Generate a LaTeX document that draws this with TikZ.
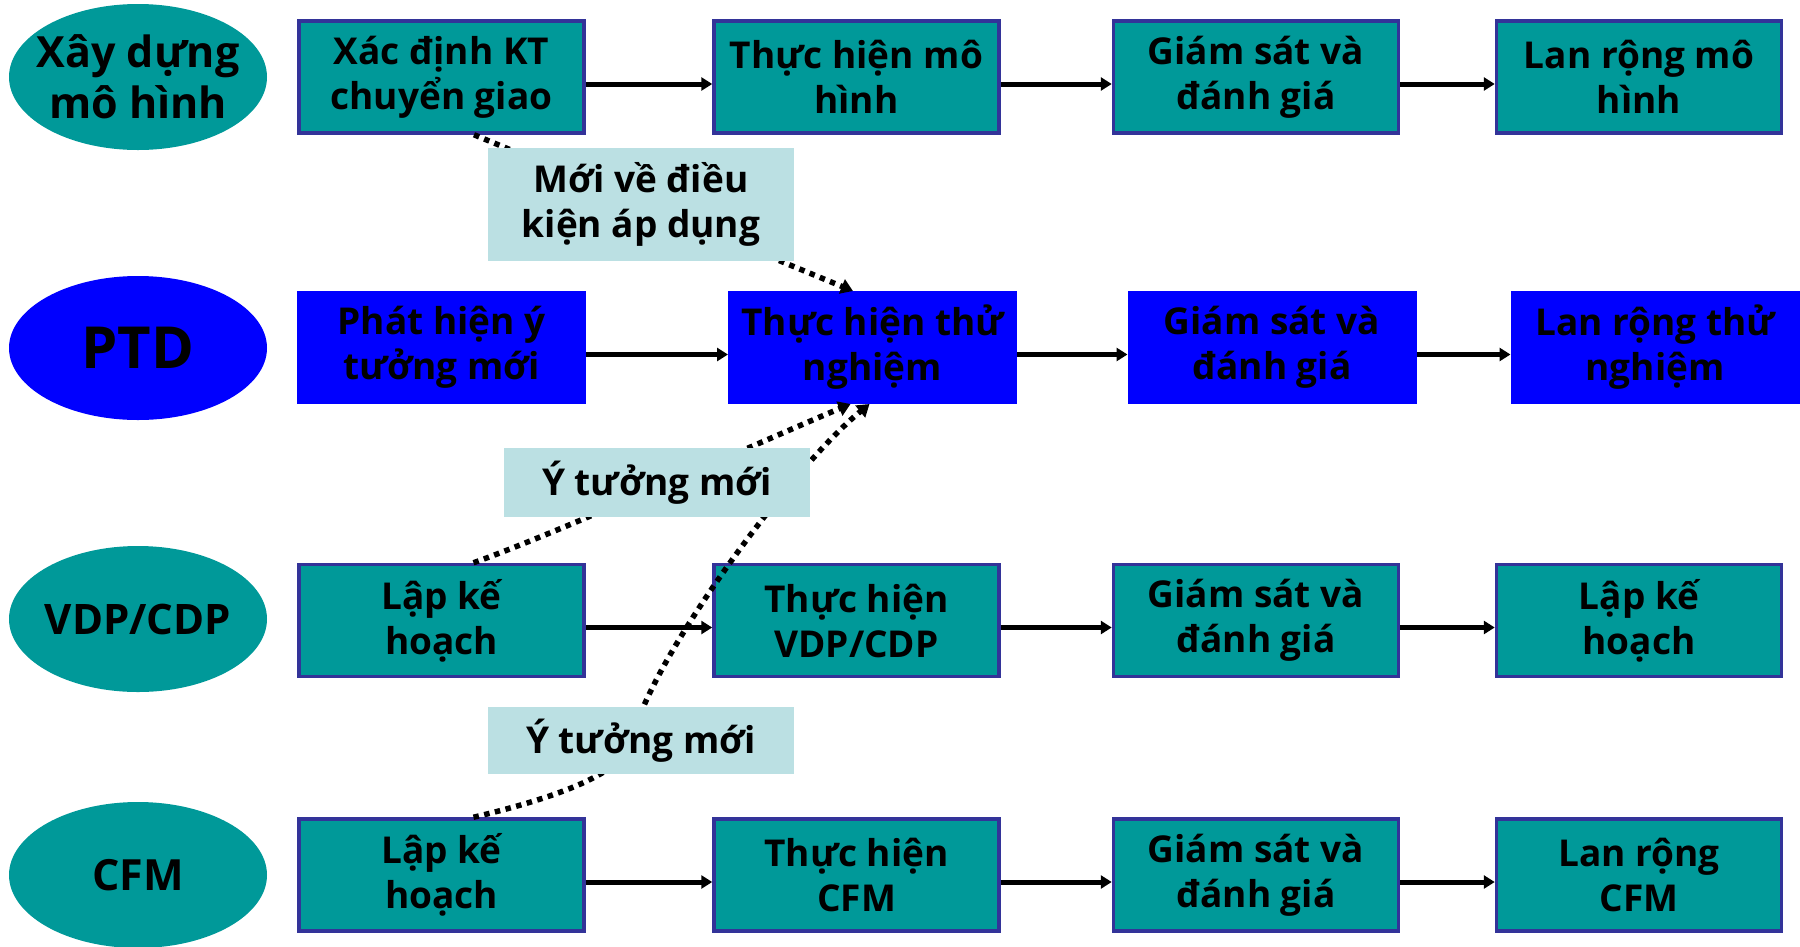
\documentclass[tikz,border=0pt]{standalone}
\usepackage{fontspec}
\setmainfont{Open Sans}
\usetikzlibrary{shapes.geometric,arrows.meta}
\definecolor{myteal}{HTML}{009999}
\definecolor{myborder}{HTML}{333399}
\definecolor{myblue}{HTML}{0000FF}
\definecolor{mylight}{HTML}{BBE0E3}
\begin{document}
\begin{tikzpicture}[x=1pt,y=-1pt,
  txt/.style={font=\fontsize{37}{45}\selectfont\bfseries, align=center, text=black},
  tbox/.style={txt, rectangle, fill=myteal, draw=myborder, line width=3.5pt, minimum width=285pt, minimum height=112pt, inner sep=0pt},
  bbox/.style={txt, rectangle, fill=myblue, draw=myblue, line width=1pt, minimum width=288pt, minimum height=112pt, inner sep=0pt},
  ell/.style={ellipse, minimum width=258pt, minimum height=146pt, inner sep=0pt},
  etxt/.style={align=center, text=black, inner sep=0pt},
  lbl/.style={txt, rectangle, fill=mylight, minimum width=306pt, inner sep=0pt},
  flow/.style={line width=5pt, -{Triangle[length=11pt,width=13pt]}},
  idea/.style={line width=5.5pt, dash pattern=on 5.5pt off 5.5pt, -{Triangle[length=12pt,width=15pt]}}
]
\useasboundingbox (0,0) rectangle (1800,946);

% ellipses
\node[ell, fill=myteal] (e1) at (138,77) {};
\node[etxt, font=\fontsize{43}{51}\selectfont\bfseries] (t1) at (e1.center) {Xây dựng\\mô hình};
\node[ell, fill=myblue, minimum height=144pt] (e2) at (138,348) {};
\node[etxt, font=\fontsize{58}{60}\selectfont\bfseries] (t2) at (e2.center) {PTD};
\node[ell, fill=myteal] (e3) at (138,619) {};
\node[etxt, font=\fontsize{42}{50}\selectfont\bfseries] (t3) at (e3.center) {VDP/CDP};
\node[ell, fill=myteal] (e4) at (138,875) {};
\node[etxt, font=\fontsize{43}{50}\selectfont\bfseries] (t4) at (e4.center) {CFM};

% row 1
\node[tbox] (b11) at (441.5,77) {Xác định KT\\chuyển giao};
\node[tbox] (b12) at (856.5,77) {Thực hiện mô\\hình};
\node[tbox] (b13) at (1256,77) {Giám sát và\\đánh giá};
\node[tbox] (b14) at (1639,77) {Lan rộng mô\\hình};

% row 2
\node[bbox] (b21) at (441.5,347.5) {Phát hiện ý\\tưởng mới};
\node[bbox] (b22) at (872.5,347.5) {Thực hiện thử\\nghiệm};
\node[bbox] (b23) at (1272,347.5) {Giám sát và\\đánh giá};
\node[bbox] (b24) at (1655,347.5) {Lan rộng thử\\nghiệm};

% row 3
\node[tbox] (b31) at (441.5,620.5) {Lập kế\\hoạch};
\node[tbox] (b32) at (856.5,620.5) {Thực hiện\\VDP/CDP};
\node[tbox] (b33) at (1256,620.5) {Giám sát và\\đánh giá};
\node[tbox] (b34) at (1639,620.5) {Lập kế\\hoạch};

% row 4
\node[tbox] (b41) at (441.5,875) {Lập kế\\hoạch};
\node[tbox] (b42) at (856.5,875) {Thực hiện\\CFM};
\node[tbox] (b43) at (1256,875) {Giám sát và\\đánh giá};
\node[tbox] (b44) at (1639,875) {Lan rộng\\CFM};

% flow arrows
\foreach \r in {1,2,3,4}{
  \draw[flow] ([yshift=-7pt]b\r1.east) -- ([yshift=-7pt]b\r2.west);
  \draw[flow] ([yshift=-7pt]b\r2.east) -- ([yshift=-7pt]b\r3.west);
  \draw[flow] ([yshift=-7pt]b\r3.east) -- ([yshift=-7pt]b\r4.west);
}

% idea connectors
\draw[idea] ([xshift=32.5pt]b11.south) -- ([xshift=-19.5pt]b22.north);
\draw[idea] ([xshift=32pt]b31.north) .. controls (560,532) and (760,442) .. ([xshift=-22pt]b22.south);
\coordinate (m) at (632,740);
\draw[idea] ([xshift=32pt]b41.north) .. controls (572,794) and (626,769) .. (m)
  .. controls (649,662) and (790,469) .. ([xshift=-3pt]b22.south);

% labels
\node[lbl, minimum height=113pt] (l1) at (641,204.5) {Mới về điều\\kiện áp dụng};
\node[lbl, minimum height=69pt] (l2) at (657,482.5) {Ý tưởng mới};
\node[lbl, minimum height=67pt] (l3) at (641,740.5) {Ý tưởng mới};
\end{tikzpicture}
\end{document}
